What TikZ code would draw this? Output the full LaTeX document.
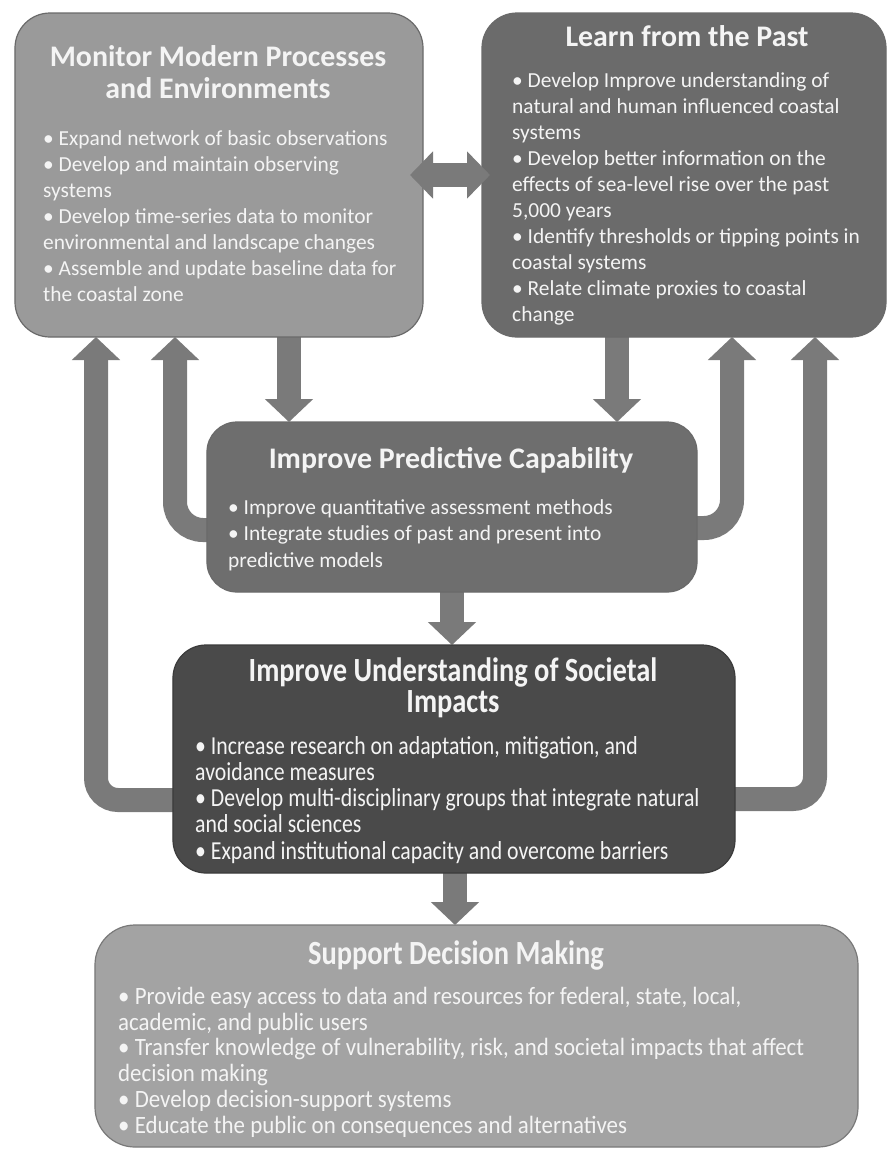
\documentclass[tikz,border=0pt]{standalone}
\usepackage{fontspec}
\setmainfont{Carlito}
\newfontfamily\condfont[FakeStretch=0.84]{Carlito}
\newfontfamily\supfont[FakeStretch=0.92]{Carlito}
\usetikzlibrary{arrows.meta,backgrounds}
\definecolor{monfill}{HTML}{9A9A9A}
\definecolor{learnfill}{HTML}{6B6B6B}
\definecolor{predfill}{HTML}{6E6E6E}
\definecolor{socfill}{HTML}{4A4A4A}
\definecolor{supfill}{HTML}{A3A3A3}
\definecolor{arrowgray}{HTML}{7A7A7A}
\definecolor{edgegray}{HTML}{6A6A6A}
\definecolor{txtwhite}{HTML}{F4F4F4}
\tikzset{
  box/.style={rounded corners=35bp, inner sep=0pt, outer sep=0pt, draw=edgegray, line width=1.2bp},
  bigarrow/.style={draw=arrowgray, line width=24bp, -{Triangle[length=23bp,width=47bp]}},
  ttl/.style={text=txtwhite, inner sep=0pt, align=center, anchor=base, font=\bfseries\fontsize{30}{32}\selectfont},
  body/.style={text=txtwhite, inner sep=0pt, align=left, anchor=base west, font=\fontsize{21.5}{26}\selectfont},
  predbody/.style={body, font=\fontsize{21.5}{26.5}\selectfont},
  condttl/.style={text=txtwhite, inner sep=0pt, align=center, anchor=base, font=\condfont\bfseries\fontsize{34}{31}\selectfont},
  condbody/.style={text=txtwhite, inner sep=0pt, align=left, anchor=base west, font=\condfont\fontsize{26}{26.25}\selectfont},
  supbody/.style={text=txtwhite, inner sep=0pt, align=left, anchor=base west, font=\supfont\fontsize{25}{25.8}\selectfont},
}
\begin{document}
\begin{tikzpicture}[x=1bp,y=-1bp]
\useasboundingbox (0,0) rectangle (889,1152);

% boxes
\node[box, fill=monfill, minimum width=408bp, minimum height=324bp] (mon) at (219,175) {};
\node[box, fill=learnfill, minimum width=404bp, minimum height=324bp] (learn) at (684,175) {};
\node[box, fill=predfill, minimum width=490bp, minimum height=170bp, rounded corners=30bp] (pred) at (452,507) {};
\node[box, fill=socfill, draw=socfill!80!black, minimum width=562bp, minimum height=228bp, rounded corners=33bp] (soc) at (454,759) {};
\node[box, fill=supfill, draw=edgegray!90, minimum width=763bp, minimum height=222bp, rounded corners=40bp] (sup) at (476.5,1036) {};

% texts
\node[ttl] (montitle) at (218,98) {Monitor Modern Processes\\and Environments};
\node[body] (montext) at (43,301) {• Expand network of basic observations\\
• Develop and maintain observing\\
systems\\
• Develop time-series data to monitor\\
environmental and landscape changes\\
• Assemble and update baseline data for\\
the coastal zone};

\node[ttl] (learntitle) at (687,46) {Learn from the Past};
\node[body] (learntext) at (512,321) {• Develop Improve understanding of\\
natural and human influenced coastal\\
systems\\
• Develop better information on the\\
effects of sea-level rise over the past\\
5,000 years\\
• Identify thresholds or tipping points in\\
coastal systems\\
• Relate climate proxies to coastal\\
change};

\node[ttl] (predtitle) at (451,468) {Improve Predictive Capability};
\node[predbody] (predtext) at (228,567) {• Improve quantitative assessment methods\\
• Integrate studies of past and present into\\
predictive models};

\node[condttl] (soctitle) at (453,712) {Improve Understanding of Societal\\Impacts};
\node[condbody] (soctext) at (195,859) {• Increase research on adaptation, mitigation, and\\
avoidance measures\\
• Develop multi-disciplinary groups that integrate natural\\
and social sciences\\
• Expand institutional capacity and overcome barriers};

\node[condttl] (suptitle) at (456,964) {Support Decision Making};
\node[supbody] (suptext) at (118,1133) {• Provide easy access to data and resources for federal, state, local,\\
academic, and public users\\
• Transfer knowledge of vulnerability, risk, and societal impacts that affect\\
decision making\\
• Develop decision-support systems\\
• Educate the public on consequences and alternatives};

% guide coordinates
\coordinate (xd1) at (289,0);
\coordinate (xd2) at (617,0);
\coordinate (xd3) at (452,0);
\coordinate (xd4) at (455,0);
\coordinate (xl1) at (175,0);
\coordinate (xl2) at (96,0);
\coordinate (xr1) at (732,0);
\coordinate (xr2) at (815,0);
\coordinate (yl1) at (0,530);
\coordinate (yr1) at (0,528);
\coordinate (yl2) at (0,800);
\coordinate (yr2) at (0,799);

\begin{pgfonlayer}{background}
\fill[white] (0,0) rectangle (889,1152);
\draw[bigarrow] (xd1 |- mon.south) -- (xd1 |- pred.north);
\draw[bigarrow] (xd2 |- learn.south) -- (xd2 |- pred.north);
\draw[bigarrow] (xd3 |- pred.south) -- (xd3 |- soc.north);
\draw[bigarrow] (xd4 |- soc.south) -- (xd4 |- sup.north);
\draw[bigarrow, rounded corners=28bp] ([xshift=4bp]pred.west |- yl1) -| (xl1 |- mon.south);
\draw[bigarrow, rounded corners=28bp] ([xshift=-4bp]pred.east |- yr1) -| (xr1 |- learn.south);
\draw[bigarrow, rounded corners=22bp] ([xshift=4bp]soc.west |- yl2) -| (xl2 |- mon.south);
\draw[bigarrow, rounded corners=22bp] ([xshift=-4bp]soc.east |- yr2) -| (xr2 |- learn.south);
\end{pgfonlayer}
\draw[draw=arrowgray, line width=24bp, {Triangle[length=23bp,width=46bp]}-{Triangle[length=23bp,width=46bp]}] ([xshift=-13bp]mon.east) -- ([xshift=8bp]learn.west);
\end{tikzpicture}
\end{document}
